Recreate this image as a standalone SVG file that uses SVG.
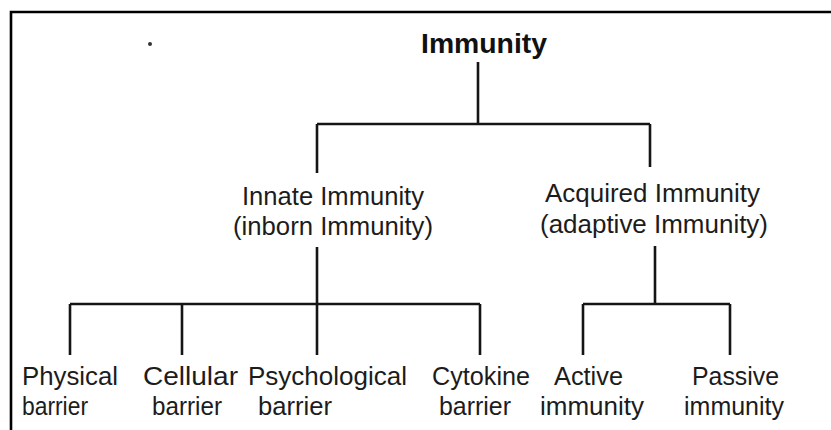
<svg xmlns="http://www.w3.org/2000/svg" width="831" height="430" viewBox="0 0 831 430">
<style>
.t{font-family:"Liberation Sans",Arial,Helvetica,sans-serif;font-size:25px;fill:#1c1c1c;text-anchor:start}
.b{font-family:"Liberation Sans",Arial,Helvetica,sans-serif;font-size:28px;font-weight:bold;fill:#111}
.ln{stroke:#151515;stroke-width:2.6;fill:none;stroke-linecap:butt}
.fr{stroke:#000;stroke-width:2.6;fill:none}
</style>
<rect x="0" y="0" width="831" height="430" fill="#fff"/>
<path class="fr" d="M11 430 V12 H831"/>
<circle cx="150" cy="44" r="2" fill="#333"/>
<g id="connectors">
<path class="ln" d="M478 62 V124 M317 124 H650 M317 124 V173 M650 124 V167"/>
<path class="ln" d="M317 247 V355 M70 304 H480 M70 304 V355 M182 304 V355 M480 304 V355"/>
<path class="ln" d="M655 246 V304 M583 304 H730 M583 304 V355 M730 304 V355"/>
</g>
<g id="immunity"><text class="b" x="421" y="53" textLength="126" lengthAdjust="spacingAndGlyphs">Immunity</text></g>
<g id="innate">
<text class="t" x="242" y="205" textLength="182" lengthAdjust="spacingAndGlyphs">Innate Immunity</text>
<text class="t" x="233" y="235" textLength="200" lengthAdjust="spacingAndGlyphs">(inborn Immunity)</text>
</g>
<g id="acquired">
<text class="t" x="545" y="202" textLength="215" lengthAdjust="spacingAndGlyphs">Acquired Immunity</text>
<text class="t" x="540" y="233" textLength="228" lengthAdjust="spacingAndGlyphs">(adaptive Immunity)</text>
</g>
<g id="physical">
<text class="t" x="22" y="385" textLength="96" lengthAdjust="spacingAndGlyphs">Physical</text>
<text class="t" x="22" y="415" textLength="66" lengthAdjust="spacingAndGlyphs">barrier</text>
</g>
<g id="cellular">
<text class="t" x="143" y="385" textLength="95" lengthAdjust="spacingAndGlyphs">Cellular</text>
<text class="t" x="152" y="415" textLength="70" lengthAdjust="spacingAndGlyphs">barrier</text>
</g>
<g id="psychological">
<text class="t" x="248" y="385" textLength="159" lengthAdjust="spacingAndGlyphs">Psychological</text>
<text class="t" x="258" y="415" textLength="74" lengthAdjust="spacingAndGlyphs">barrier</text>
</g>
<g id="cytokine">
<text class="t" x="432" y="385" textLength="98" lengthAdjust="spacingAndGlyphs">Cytokine</text>
<text class="t" x="439" y="415" textLength="72" lengthAdjust="spacingAndGlyphs">barrier</text>
</g>
<g id="active">
<text class="t" x="554" y="385" textLength="69" lengthAdjust="spacingAndGlyphs">Active</text>
<text class="t" x="540" y="415" textLength="104" lengthAdjust="spacingAndGlyphs">immunity</text>
</g>
<g id="passive">
<text class="t" x="692" y="385" textLength="87" lengthAdjust="spacingAndGlyphs">Passive</text>
<text class="t" x="684" y="415" textLength="100" lengthAdjust="spacingAndGlyphs">immunity</text>
</g>
</svg>
